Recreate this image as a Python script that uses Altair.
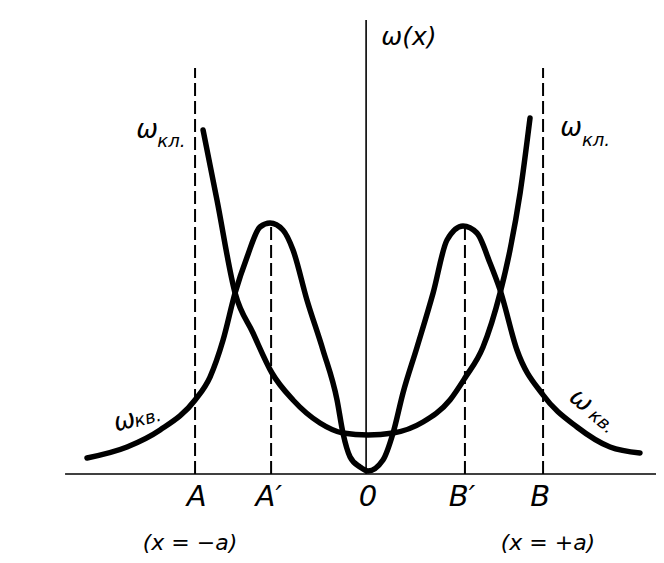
import altair as alt
import pandas as pd

# classical probability density (U-shaped), x in units of a
cl_x = [-0.948, -0.868, -0.764, -0.661, -0.552, -0.431, -0.276, -0.144, 0.0,
        0.144, 0.316, 0.471, 0.557, 0.661, 0.759, 0.816, 0.874, 0.931]
cl_y = [3.44, 2.74, 1.81, 1.41, 1.01, 0.74, 0.51, 0.41, 0.39,
        0.41, 0.52, 0.74, 0.96, 1.27, 1.81, 2.24, 2.81, 3.56]

# quantum probability density (double hump with tails)
kv_x = [-1.615, -1.385, -1.195, -0.994, -0.908, -0.833, -0.764, -0.695, -0.621, -0.563,
        -0.489, -0.431, -0.351, -0.259, -0.178, -0.144, -0.103, -0.046, 0.0,
        0.086, 0.144, 0.201, 0.282, 0.374, 0.454, 0.546, 0.626, 0.701, 0.759,
        0.856, 1.006, 1.201, 1.391, 1.563]
kv_y = [0.16, 0.27, 0.44, 0.74, 0.97, 1.34, 1.81, 2.17, 2.47, 2.51,
        2.44, 2.24, 1.74, 1.24, 0.74, 0.41, 0.17, 0.07, 0.03,
        0.14, 0.41, 0.81, 1.27, 1.81, 2.34, 2.48, 2.41, 2.11, 1.84,
        1.24, 0.79, 0.47, 0.27, 0.21]

# dashed verticals: A, A', B', B
dash_x = [-0.994, -0.557, 0.557, 1.006]
dash_top = [4.06, 2.51, 2.46, 4.06]

# bottom labels
tick_labels = ["A", "A\u2032", "0", "B\u2032", "B"]
tick_pos = [-0.985, -0.57, 0.0, 0.54, 0.99]
sub_labels = ["(x = \u2212a)", "(x = +a)"]
sub_pos = [-1.023, 1.034]

XD = [-2.069, 1.655]
YD = [-0.81, 4.66]
xs = alt.Scale(domain=XD, nice=False, zero=False)
ys = alt.Scale(domain=YD, nice=False, zero=False)
FONT = "DejaVu Sans"

curves = pd.DataFrame(
    [{"x": a, "y": b, "c": "cl"} for a, b in zip(cl_x, cl_y)]
    + [{"x": a, "y": b, "c": "kv"} for a, b in zip(kv_x, kv_y)]
)
lines = alt.Chart(curves).mark_line(
    color="black", strokeWidth=5.5, interpolate="monotone", strokeCap="round"
).encode(
    x=alt.X("x:Q", scale=xs, axis=None),
    y=alt.Y("y:Q", scale=ys, axis=None),
    detail="c:N",
)

axes_df = pd.DataFrame([
    {"x": -1.741, "x2": 1.66, "y": 0.0, "y2": 0.0},
    {"x": -0.011, "x2": -0.011, "y": 0.0, "y2": 4.54},
])
axes = alt.Chart(axes_df).mark_rule(color="black", strokeWidth=1.6).encode(
    x=alt.X("x:Q", scale=xs, axis=None), x2="x2:Q",
    y=alt.Y("y:Q", scale=ys, axis=None), y2="y2:Q",
)

dash_df = pd.DataFrame({"x": dash_x, "y": [0.0] * 4, "y2": dash_top})
dashes = alt.Chart(dash_df).mark_rule(
    color="black", strokeWidth=2, strokeDash=[13, 5]
).encode(
    x=alt.X("x:Q", scale=xs, axis=None),
    y=alt.Y("y:Q", scale=ys, axis=None), y2="y2:Q",
)

def txt(df, size, angle=0, style="italic"):
    return alt.Chart(df).mark_text(
        font=FONT, fontSize=size, fontStyle=style, color="black",
        angle=angle, align="center", baseline="middle",
    ).encode(
        x=alt.X("x:Q", scale=xs, axis=None),
        y=alt.Y("y:Q", scale=ys, axis=None),
        text="t:N",
    )

ticks_t = txt(pd.DataFrame({"x": tick_pos, "y": [-0.23] * 5, "t": tick_labels}), 29)
subs_t = txt(pd.DataFrame({"x": sub_pos, "y": [-0.69] * 2, "t": sub_labels}), 22)
omega_t = txt(pd.DataFrame({"x": [0.235], "y": [4.37], "t": ["\u03c9(x)"]}), 25)
om_cl = txt(pd.DataFrame({"x": [-1.27, 1.167], "y": [3.44, 3.46], "t": ["\u03c9", "\u03c9"]}), 26)
sub_cl = txt(pd.DataFrame({"x": [-1.13, 1.31], "y": [3.32, 3.33], "t": ["\u043a\u043b.", "\u043a\u043b."]}), 18)
om_kv_l = txt(pd.DataFrame({"x": [-1.40], "y": [0.53], "t": ["\u03c9"]}), 26, angle=345)
sub_kv_l = txt(pd.DataFrame({"x": [-1.265], "y": [0.55], "t": ["\u043a\u0432."]}), 18, angle=345)
om_kv_r = txt(pd.DataFrame({"x": [1.225], "y": [0.74], "t": ["\u03c9"]}), 26, angle=40)
sub_kv_r = txt(pd.DataFrame({"x": [1.34], "y": [0.52], "t": ["\u043a\u0432."]}), 18, angle=40)

chart = alt.layer(
    axes, dashes, lines, ticks_t, subs_t, omega_t,
    om_cl, sub_cl, om_kv_l, sub_kv_l, om_kv_r, sub_kv_r,
).properties(
    width=648, height=547, padding=0,
    autosize=alt.AutoSizeParams(type="none"),
    background="white",
).configure_view(stroke=None)

chart.save("out.html", embed_options={"renderer": "svg", "actions": False})
